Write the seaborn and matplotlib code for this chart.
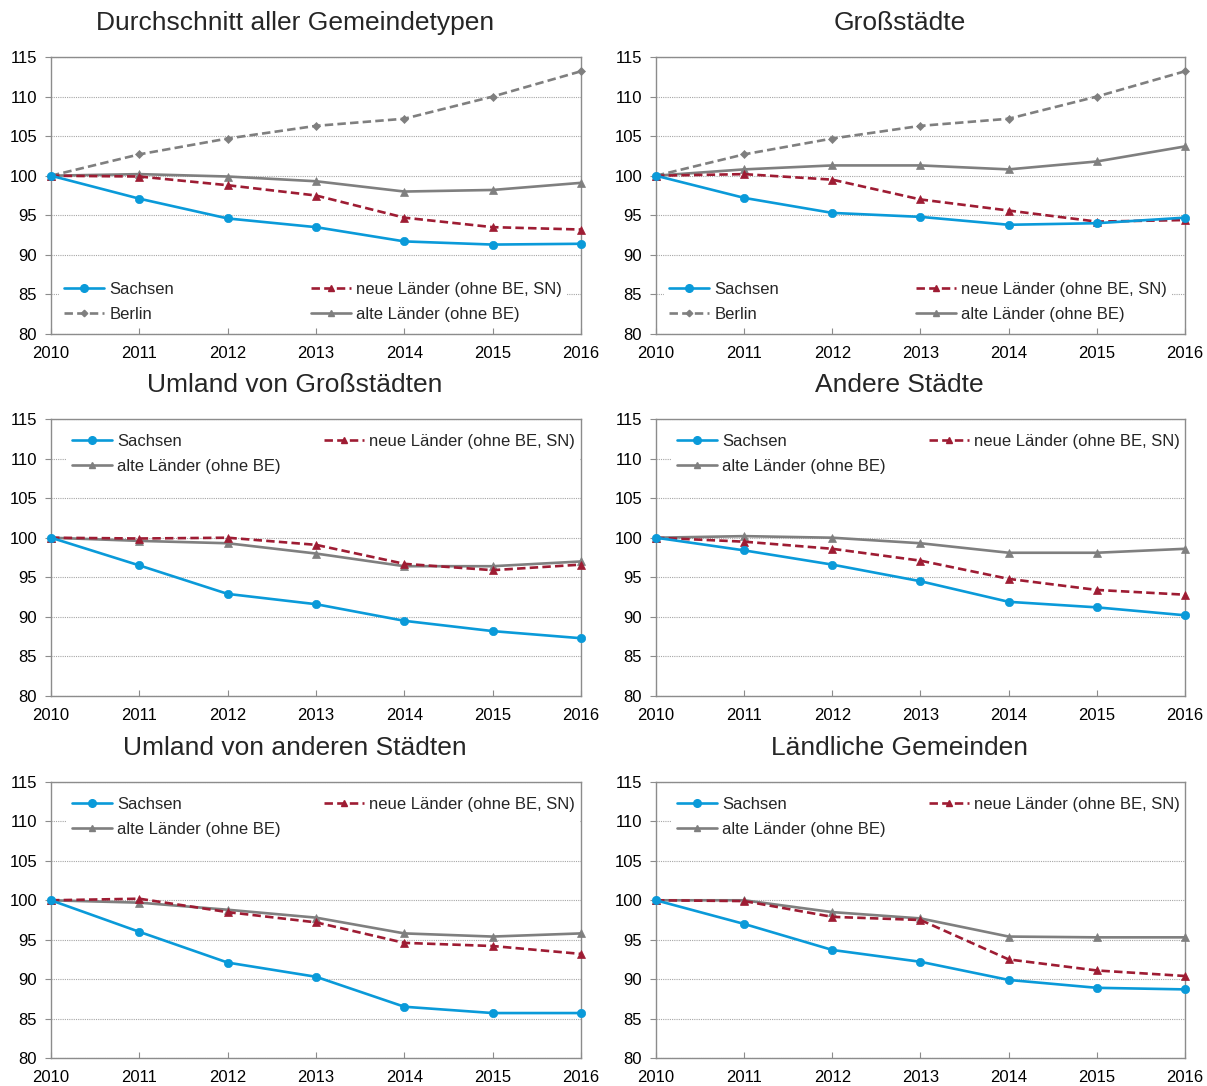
import matplotlib
matplotlib.use("Agg")
import matplotlib.pyplot as plt
import seaborn as sns
import pandas as pd
from matplotlib.lines import Line2D

sns.set_theme(style="white")
plt.rcParams["font.family"] = ["Liberation Sans", "DejaVu Sans"]

# data
years = [2010, 2011, 2012, 2013, 2014, 2015, 2016]

titles = [
    "Durchschnitt aller Gemeindetypen",
    "Großstädte",
    "Umland von Großstädten",
    "Andere Städte",
    "Umland von anderen Städten",
    "Ländliche Gemeinden",
]

sachsen = [
    [100, 97.1, 94.6, 93.5, 91.7, 91.3, 91.4],
    [100, 97.2, 95.3, 94.8, 93.8, 94.0, 94.7],
    [100, 96.5, 92.9, 91.6, 89.5, 88.2, 87.3],
    [100, 98.4, 96.6, 94.5, 91.9, 91.2, 90.2],
    [100, 96.0, 92.1, 90.3, 86.5, 85.7, 85.7],
    [100, 97.0, 93.7, 92.2, 89.9, 88.9, 88.7],
]
neue_laender = [
    [100, 99.9, 98.8, 97.5, 94.7, 93.5, 93.2],
    [100, 100.2, 99.5, 97.0, 95.6, 94.2, 94.4],
    [100, 99.9, 100.0, 99.1, 96.7, 95.9, 96.6],
    [100, 99.5, 98.6, 97.1, 94.8, 93.4, 92.8],
    [100, 100.2, 98.5, 97.2, 94.6, 94.2, 93.2],
    [100, 99.9, 97.9, 97.5, 92.5, 91.1, 90.4],
]
alte_laender = [
    [100, 100.2, 99.9, 99.3, 98.0, 98.2, 99.1],
    [100, 100.8, 101.3, 101.3, 100.8, 101.8, 103.7],
    [100, 99.6, 99.3, 98.0, 96.4, 96.4, 97.0],
    [100, 100.2, 100.0, 99.3, 98.1, 98.1, 98.6],
    [100, 99.7, 98.8, 97.8, 95.8, 95.4, 95.8],
    [100, 100.0, 98.5, 97.7, 95.4, 95.3, 95.3],
]
berlin = [100, 102.7, 104.7, 106.3, 107.2, 110.0, 113.2]

yticks = [80, 85, 90, 95, 100, 105, 110, 115]

# styles
BLUE = "#0a9ad9"
RED = "#9e1c33"
GREY = "#7f7f7f"
styles = {
    "Sachsen": dict(color=BLUE, linestyle="-", marker="o", markersize=6, lw=1.9),
    "neue Länder (ohne BE, SN)": dict(color=RED, linestyle=(0, (3.2, 1.6)), marker="^", markersize=5.5, lw=1.9),
    "Berlin": dict(color=GREY, linestyle=(0, (3.2, 1.6)), marker="D", markersize=3.8, lw=1.9),
    "alte Länder (ohne BE)": dict(color=GREY, linestyle="-", marker="^", markersize=5.5, lw=1.9),
}

W, H = 1207, 1086
fig = plt.figure(figsize=(W / 100, H / 100), dpi=100)

col_x = [(51, 581), (656, 1185)]
row_y = [(57, 334), (419, 696), (782, 1058)]


def handle(name):
    st = styles[name]
    return Line2D([], [], color=st["color"], linestyle=st["linestyle"],
                  marker=st["marker"], markersize=st["markersize"] - 0.5,
                  linewidth=st["lw"], markeredgecolor=st["color"])


for i, title in enumerate(titles):
    r, c = divmod(i, 2)
    x0, x1 = col_x[c]
    y0, y1 = row_y[r]
    ax = fig.add_axes([x0 / W, 1 - y1 / H, (x1 - x0) / W, (y1 - y0) / H])

    series = {
        "Sachsen": sachsen[i],
        "neue Länder (ohne BE, SN)": neue_laender[i],
        "alte Länder (ohne BE)": alte_laender[i],
    }
    if i < 2:
        series["Berlin"] = berlin

    order = ["Berlin", "alte Länder (ohne BE)", "neue Länder (ohne BE, SN)", "Sachsen"]
    for name in order:
        if name not in series:
            continue
        df = pd.DataFrame({"Jahr": years, "Wert": series[name]})
        st = styles[name]
        sns.lineplot(
            data=df, x="Jahr", y="Wert", ax=ax,
            color=st["color"], linestyle=st["linestyle"], marker=st["marker"],
            markersize=st["markersize"], linewidth=st["lw"],
            markeredgecolor=st["color"], markeredgewidth=0.5,
            clip_on=False, zorder=3,
        )

    ax.set_xlim(2010, 2016)
    ax.set_ylim(80, 115)
    ax.set_xticks(years)
    ax.set_yticks(yticks)
    ax.set_xlabel("")
    ax.set_ylabel("")
    ax.tick_params(axis="both", labelsize=12, colors="#000000")
    ax.tick_params(axis="y", direction="out", length=4, width=0.8, color="#8c8c8c", left=True, pad=6)
    ax.tick_params(axis="x", direction="in", length=4, width=0.8, color="#8c8c8c", bottom=True, pad=9)
    ax.grid(axis="y", color="#a6a6a6", linestyle=(0, (1, 1)), linewidth=0.8)
    ax.set_axisbelow(True)
    for side in ["left", "bottom", "top", "right"]:
        ax.spines[side].set_visible(True)
        ax.spines[side].set_color("#8c8c8c")
        ax.spines[side].set_linewidth(1.0)

    ax.text(0.46, 1 + 34 / (y1 - y0), title, transform=ax.transAxes,
            ha="center", va="center", fontsize=19)

    if i < 2:
        names = ["Sachsen", "Berlin", "neue Länder (ohne BE, SN)", "alte Länder (ohne BE)"]
        leg = ax.legend([handle(n) for n in names], names, ncol=2,
                        loc="lower left", bbox_to_anchor=(0.0, -0.005),
                        frameon=True, framealpha=1, edgecolor="white",
                        fontsize=12, handlelength=2.4, handletextpad=0.3,
                        columnspacing=8.2, labelspacing=0.62, borderpad=0.3)
    else:
        names = ["Sachsen", "alte Länder (ohne BE)", "neue Länder (ohne BE, SN)"]
        leg = ax.legend([handle(n) for n in names], names, ncol=2,
                        loc="upper left", bbox_to_anchor=(0.015, 0.995),
                        frameon=True, framealpha=1, edgecolor="white",
                        fontsize=12, handlelength=2.4, handletextpad=0.3,
                        columnspacing=2.6, labelspacing=0.62, borderpad=0.3)
    leg.get_frame().set_linewidth(0)
    leg.set_zorder(2)

fig.savefig("out.png", dpi=100)
